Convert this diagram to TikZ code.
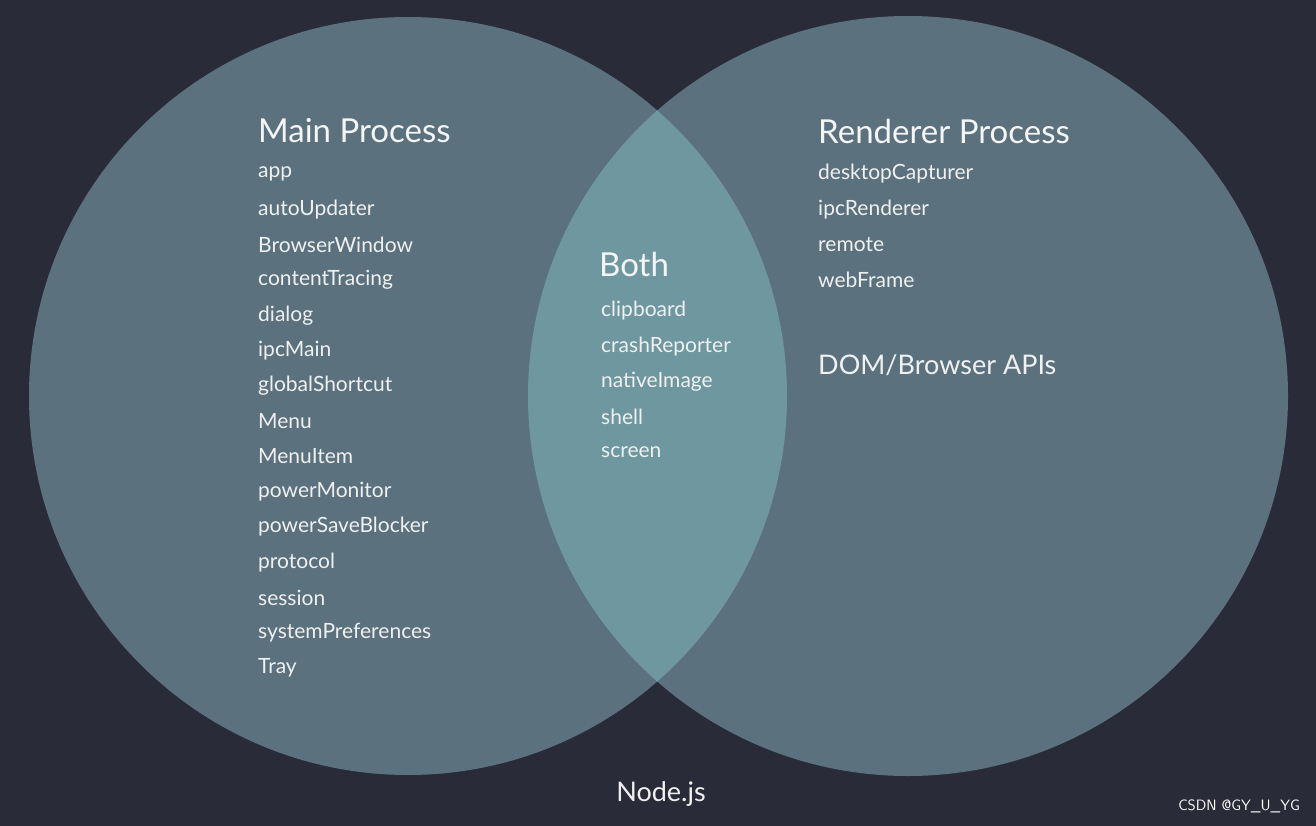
\documentclass[tikz,border=0pt]{standalone}
\usepackage{fontspec}
\setmainfont{Lato}
\begin{document}
\begin{tikzpicture}[x=1pt,y=-1pt,
  item/.style={anchor=west,text=white!88!gray,font=\fontsize{21}{24}\selectfont,inner sep=0},
  title/.style={anchor=west,text=white!92!gray,font=\fontsize{33}{38}\selectfont,inner sep=0}]
\definecolor{bg}{HTML}{2A2B38}
\definecolor{circ}{HTML}{5B717E}
\definecolor{both}{HTML}{6E97A0}
\fill[bg] (0,0) rectangle (1316,826);
\useasboundingbox (0,0) rectangle (1316,826);
\fill[circ] (408,396) circle (379);
\fill[circ] (908,396) circle (380);
\begin{scope}
\clip (408,396) circle (379);
\fill[both] (908,396) circle (380);
\end{scope}
\node[title] (mp) at (258,131) {Main Process};
\foreach \t [count=\i from 0] in {app,autoUpdater,BrowserWindow,contentTracing,dialog,ipcMain,globalShortcut,Menu,MenuItem,powerMonitor,powerSaveBlocker,protocol,session,systemPreferences,Tray}
  \node[item] (m\i) at (258,174+35.3*\i) {\t};
\node[title] (rp) at (818,131) {Renderer Process};
\foreach \t [count=\i from 0] in {desktopCapturer,ipcRenderer,remote,webFrame}
  \node[item] (r\i) at (818,174+35.3*\i) {\t};
\node[item,font=\fontsize{27}{30}\selectfont] (dom) at (818,365) {DOM/Browser APIs};
\node[title] (both) at (599,264) {Both};
\foreach \t [count=\i from 0] in {clipboard,crashReporter,nativeImage,shell,screen}
  \node[item] (b\i) at (601,311+35.3*\i) {\t};
\node[item,anchor=center,font=\fontsize{27}{30}\selectfont] (nj) at (661,794) {Node.js};
\node[anchor=east,inner sep=0,text=white,font=\sffamily\fontsize{15}{18}\selectfont] (cs) at (1300,806) {CSDN @GY\_U\_YG};
\end{tikzpicture}
\end{document}
